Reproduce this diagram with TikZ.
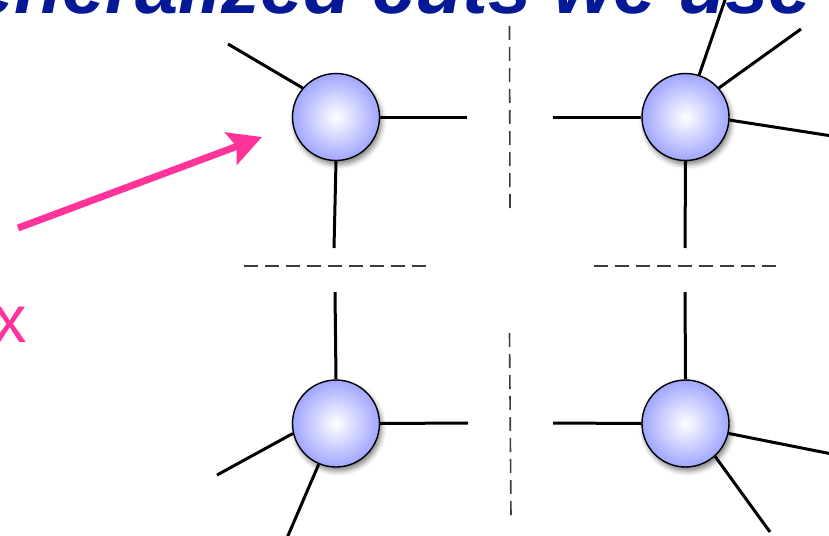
\documentclass[tikz,border=0pt]{standalone}
\usepackage{fontspec}
\setmainfont{Liberation Sans}
\usetikzlibrary{arrows.meta,shadows.blur}
\definecolor{titleblue}{RGB}{5,25,150}
\definecolor{hotpink}{RGB}{255,51,153}
\definecolor{vertexedge}{RGB}{160,166,255}
\definecolor{cutgray}{RGB}{60,60,60}
\tikzset{
  vertex/.style={circle, minimum size=87pt, inner sep=0pt, draw=black, line width=1.4pt,
    inner color=white, outer color=vertexedge,
    blur shadow={shadow xshift=2pt, shadow yshift=-4pt, shadow blur radius=5pt, shadow opacity=50}},
  leg/.style={line width=3pt, line cap=butt},
  cutline/.style={line width=1.6pt, draw=cutgray, dash pattern=on 14pt off 7pt},
  pointer/.style={line width=7pt, draw=hotpink, -{Stealth[length=33pt,width=34pt,inset=6pt]}},
}
\begin{document}
\begin{tikzpicture}[x=1pt,y=-1pt]
\useasboundingbox (0,0) rectangle (829,535);
\clip (0,0) rectangle (829,535);
% title (cut off at the top)
\node[anchor=base east, inner sep=0pt, text=titleblue, font=\fontsize{77.5}{80}\selectfont\bfseries\itshape] (title) at (812,14) {Generalized cuts we use};
% pink label (cut off at the left)
\node[anchor=base east, inner sep=0pt, text=hotpink, font=\fontsize{67}{70}\selectfont] (xlabel) at (27,342) {x};
% vertices
\node[vertex] (tl) at (336,117) {};
\node[vertex] (tr) at (685.5,117) {};
\node[vertex] (bl) at (336,423.5) {};
\node[vertex] (br) at (685.5,423.5) {};
% free ends
\coordinate (tl1) at (228,44);
\coordinate (tl2) at (467,117);
\coordinate (tl3) at (334,248);
\coordinate (tr1) at (726,-3);
\coordinate (tr2) at (801,29);
\coordinate (tr3) at (832,136);
\coordinate (tr4) at (553,117);
\coordinate (tr5) at (685,248);
\coordinate (bl1) at (335,292);
\coordinate (bl2) at (468,423);
\coordinate (bl3) at (217,475);
\coordinate (bl4) at (287,538);
\coordinate (br1) at (685,292);
\coordinate (br2) at (553,423);
\coordinate (br3) at (832,454);
\coordinate (br4) at (770,532);
% legs
\draw[leg] (tl.139.5) -- (tl1);
\draw[leg] (tl.0) -- (tl2);
\draw[leg] (tl.270) -- (tl3);
\draw[leg] (tr.72.6) -- (tr1);
\draw[leg] (tr.41.8) -- (tr2);
\draw[leg] (tr.356) -- (tr3);
\draw[leg] (tr.180) -- (tr4);
\draw[leg] (tr.270) -- (tr5);
\draw[leg] (bl.90) -- (bl1);
\draw[leg] (bl.0) -- (bl2);
\draw[leg] (bl.193.4) -- (bl3);
\draw[leg] (bl.247.5) -- (bl4);
\draw[leg] (br.90) -- (br1);
\draw[leg] (br.180) -- (br2);
\draw[leg] (br.347.7) -- (br3);
\draw[leg] (br.312.4) -- (br4);
% cuts
\coordinate (ch1a) at (244,266); \coordinate (ch1b) at (428,266);
\coordinate (ch2a) at (594,266); \coordinate (ch2b) at (778,266);
\coordinate (cv1a) at (509.5,26); \coordinate (cv1b) at (510,210);
\coordinate (cv2a) at (509.5,333); \coordinate (cv2b) at (511,517);
\draw[cutline] (ch1a) -- (ch1b);
\draw[cutline] (ch2a) -- (ch2b);
\draw[cutline] (cv1a) -- (cv1b);
\draw[cutline] (cv2a) -- (cv2b);
% pointer arrow
\coordinate (p1) at (18,228);
\coordinate (p2) at (262,137);
\draw[pointer] (p1) -- (p2);
\end{tikzpicture}
\end{document}
